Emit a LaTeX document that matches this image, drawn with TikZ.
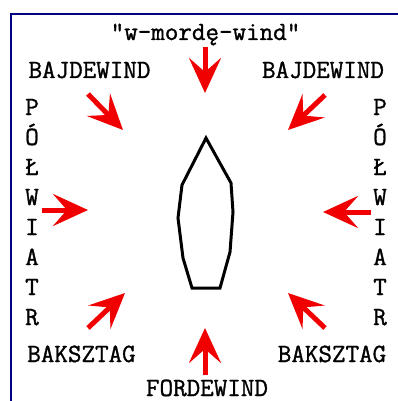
\documentclass[tikz,border=0pt]{standalone}
\usepackage{fontspec}
\usepackage{tikz}
\usepackage{xcolor}
\usetikzlibrary{arrows.meta}
\newfontfamily\typewriter{Latin Modern Mono}[FakeBold=1.2]
\definecolor{windred}{HTML}{F00000}
\definecolor{framenavy}{HTML}{000080}
\definecolor{hullblack}{HTML}{000000}
\tikzset{
  % Wind arrows -- thick shaft, wide head
  windarr/.style={-{Stealth[length=35pt, width=32pt, inset=14pt]},
                  line width=5pt, windred},
  % Labels
  dirlabel/.style={font=\typewriter\fontsize{26.3}{26.3}\selectfont,
                   text=black, anchor=base, inner sep=0pt},
  % Boat and frame
  hull/.style={draw=hullblack, line width=3pt, line join=miter},
  frame/.style={draw=framenavy, line width=2.5pt},
}

\begin{document}
\begin{tikzpicture}[x=1pt, y=-1pt]
  \useasboundingbox (0,0) rectangle (398,401);
  \fill[white] (0,0) rectangle (398,401);
  \clip (0,0) rectangle (398,401);
  \draw[frame] (11,14) rectangle (430,430);

  % Points of sailing
  \node[dirlabel] (mordewind) at (205.5,40) {"w-mordę-wind"};
  \node[dirlabel] (bajdeL) at (89.5,78) {BAJDEWIND};
  \node[dirlabel] (bajdeR) at (323,78) {BAJDEWIND};
  \node[dirlabel] (bakszL) at (81.5,362) {BAKSZTAG};
  \node[dirlabel] (bakszR) at (332,362) {BAKSZTAG};
  \node[dirlabel] (fordewind) at (207,396) {FORDEWIND};
  \foreach \ch [count=\k from 0] in {P,Ó,Ł,W,I,A,T,R} {
    \node[dirlabel] (polwL\k) at (32,115+30*\k) {\ch};
    \node[dirlabel] (polwR\k) at (380,115+30*\k) {\ch};
  }

  % Wind arrows
  \foreach \nm/\tx/\ty/\hx/\hy in {n/205/47/205/93, s/205/375/205/328,
      w/42/210/88/210, e/371/212/323/212,
      nw/88/94/123/130, ne/325/95/288/130,
      sw/88/328/125/293, se/325/328/288/293} {
    \coordinate (\nm tail) at (\tx,\ty);
    \coordinate (\nm tip) at (\hx,\hy);
    \draw[windarr] (\nm tail) -- (\nm tip);
  }

  % Boat
  \draw[hull] (206,138) -- (231,183) -- (233,212) -- (230,252)
    -- (220,288) -- (192,288) -- (183,258) -- (178,218)
    -- (182,185) -- cycle;
\end{tikzpicture}
\end{document}
